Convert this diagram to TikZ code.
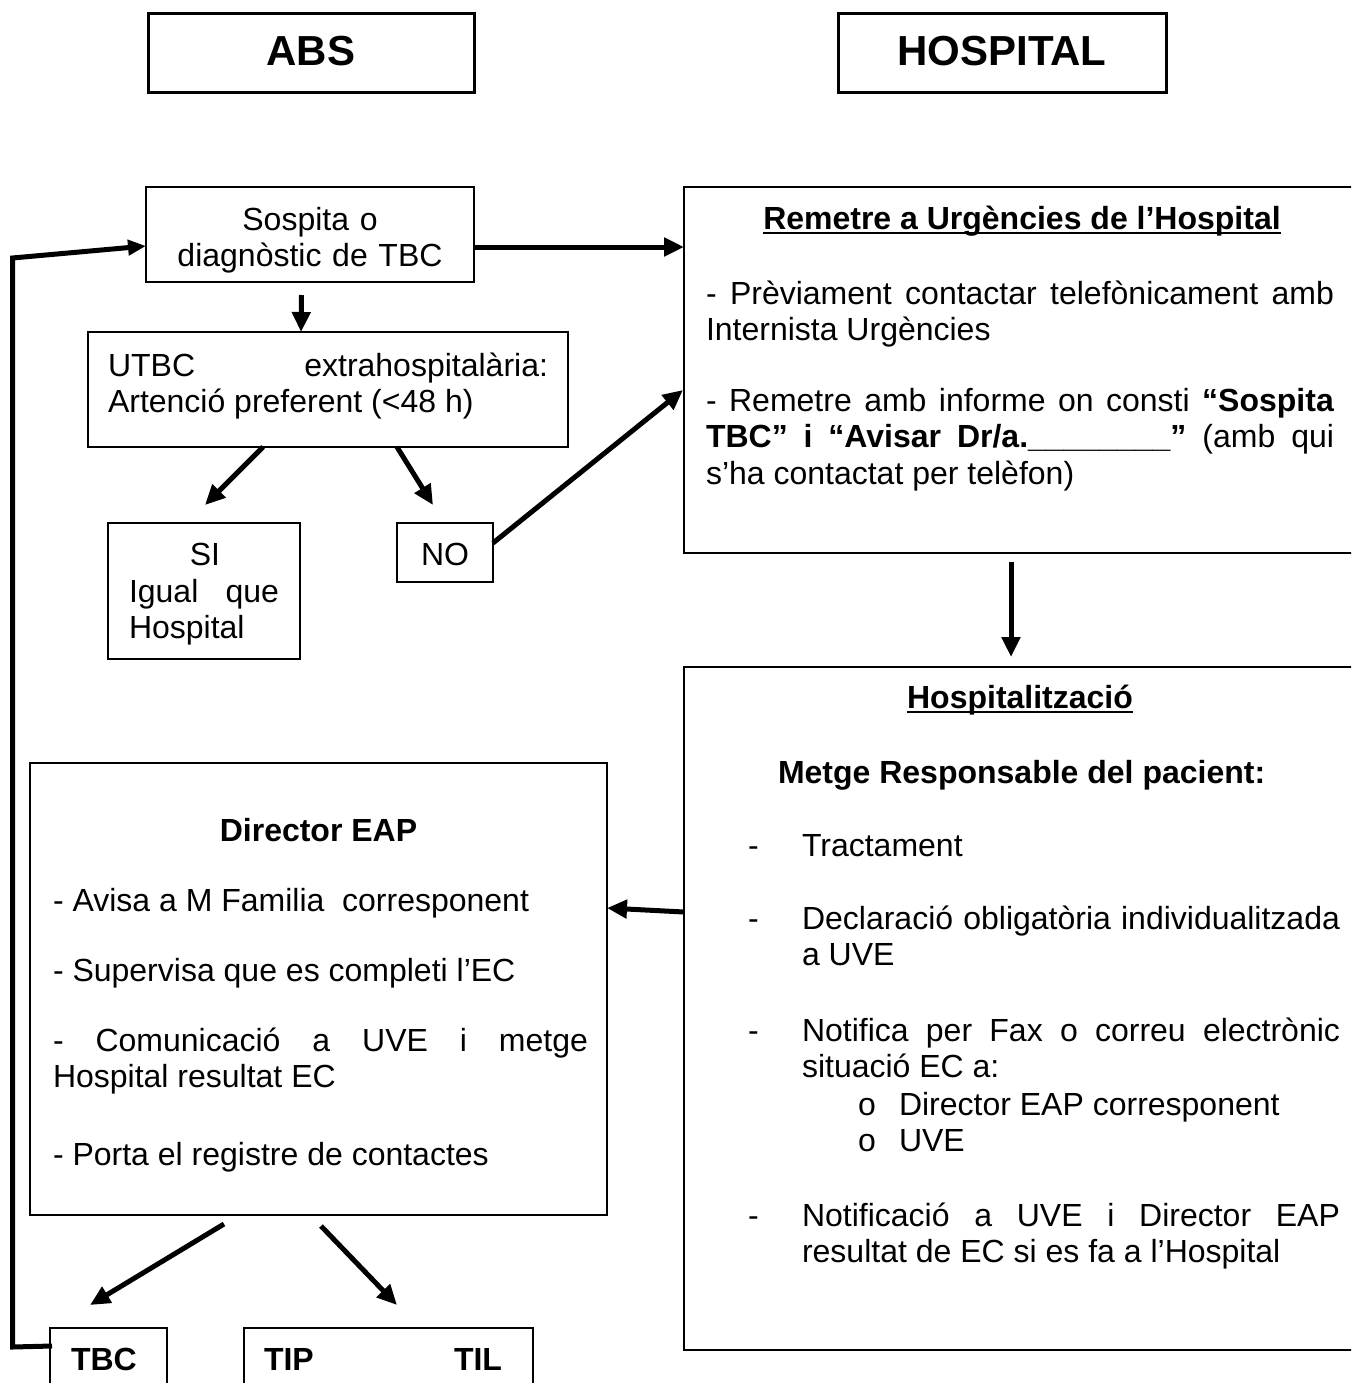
\documentclass[tikz,border=0pt]{standalone}
\usepackage{fontspec}
\setmainfont{Liberation Sans}
\usetikzlibrary{arrows.meta,calc}
\hyphenpenalty=10000
\exhyphenpenalty=10000
\tolerance=10000
\hbadness=10000
\newcommand\ulbold[1]{\setbox0=\hbox{\bfseries #1}\rlap{\rule[-5pt]{\wd0}{2.5pt}}\box0}
\begin{document}
\begin{tikzpicture}[x=1pt,y=-1pt,
  box/.style={draw, line width=1.8pt, inner sep=0pt, outer sep=0pt, anchor=north west},
  hbox/.style={box, line width=3pt},
  body/.style={inner sep=0pt, outer sep=0pt, font=\fontsize{32}{36.8}\selectfont, anchor=base west},
  para/.style={body, align=justify},
  ttl/.style={inner sep=0pt, outer sep=0pt, font=\fontsize{42}{48}\selectfont\bfseries, anchor=base},
  arr/.style={line width=5pt, -{Triangle[length=20pt,width=18pt]}},
  fb/.style={line width=5pt, line join=miter, -{Triangle[length=18pt,width=15pt]}}]
\useasboundingbox (0,0) rectangle (1351,1383);
\clip (0,0) rectangle (1351,1383);
% header boxes
\node[hbox, minimum width=326pt, minimum height=79pt] (abs) at (148,14) {};
\node[ttl] (absT) at (311,66) {ABS};
\node[hbox, minimum width=328pt, minimum height=79pt] (hospH) at (838,14) {};
\node[ttl] (hospHT) at (1002,66) {HOSPITAL};
% Sospita
\node[box, minimum width=328pt, minimum height=95pt] (sosp) at (146,187) {};
\node[body, text width=328pt, align=center, anchor=base] (sospT) at (310,230) {Sospita o\\diagnòstic de TBC};
% Remetre
\node[box, minimum width=720pt, minimum height=366pt] (rem) at (684,187) {};
\node[body, anchor=base] (remT) at (1022,229) {\ulbold{Remetre a Urgències de l’Hospital}};
\node[para, text width=628pt] (remP1) at (706,304) {- Prèviament contactar telefònicament amb\linebreak Internista Urgències};
\node[para, text width=628pt] (remP2) at (706,411) {- Remetre amb informe on consti \textbf{“Sospita}\linebreak \textbf{TBC” i “Avisar Dr/a.\_\_\_\_\_\_\_\_”} (amb qui\linebreak s’ha contactat per telèfon)};
% UTBC
\node[box, minimum width=480pt, minimum height=115pt] (utbc) at (88,332) {};
\node[para, text width=440pt] (utbcT) at (108,376) {UTBC extrahospitalària:\linebreak Artenció preferent (<48 h)};
% SI / NO
\node[box, minimum width=192pt, minimum height=136pt] (si) at (108,523) {};
\node[body, anchor=base] (siT) at (205,565) {SI};
\node[para, text width=150pt] (siP) at (129,602) {Igual que\linebreak Hospital};
\node[box, minimum width=96pt, minimum height=59pt] (no) at (397,523) {};
\node[body, anchor=base] (noT) at (445,565) {NO};
% Hospitalitzacio
\node[box, minimum width=720pt, minimum height=683pt] (hosp) at (684,667) {};
\node[body, anchor=base] (hospT) at (1020,708) {\ulbold{Hospitalització}};
\node[body] (metge) at (778,783) {\bfseries Metge Responsable del pacient:};
\node[body] (hd1) at (748,856) {-};
\node[body] (hb1) at (802,856) {Tractament};
\node[body] (hd2) at (748,929) {-};
\node[para, text width=538pt] (hb2) at (802,929) {Declaració obligatòria individualitzada\linebreak a UVE};
\node[body] (hd3) at (748,1041) {-};
\node[para, text width=538pt] (hb3) at (802,1041) {Notifica per Fax o correu electrònic\linebreak situació EC a:};
\node[body] (ho1) at (858,1115) {o};
\node[body] (hs1) at (899,1115) {Director EAP corresponent};
\node[body] (ho2) at (858,1151) {o};
\node[body] (hs2) at (899,1151) {UVE};
\node[body] (hd4) at (748,1226) {-};
\node[para, text width=538pt] (hb4) at (802,1226) {Notificació a UVE i Director EAP\linebreak resultat de EC si es fa a l’Hospital};
% Director EAP
\node[box, minimum width=577pt, minimum height=452pt] (dir) at (30,763) {};
\node[body, anchor=base] (dirT) at (318.5,841) {\bfseries Director EAP};
\node[para, text width=535pt] (dp1) at (53,911) {- Avisa a M Familia\ \ corresponent};
\node[para, text width=535pt] (dp2) at (53,981) {- Supervisa que es completi l’EC};
\node[para, text width=535pt] (dp3) at (53,1051) {- Comunicació a UVE i metge\linebreak Hospital resultat EC};
\node[para, text width=535pt] (dp4) at (53,1165) {- Porta el registre de contactes};
% bottom boxes
\node[box, minimum width=117pt, minimum height=100pt] (tbc) at (50,1328) {};
\node[body] (tbcT) at (71,1370) {\bfseries TBC};
\node[box, minimum width=289pt, minimum height=100pt] (tiptil) at (244,1328) {};
\node[body] (tipT) at (264,1370) {\bfseries TIP};
\node[body] (tilT) at (454,1370) {\bfseries TIL};
% arrows
\draw[arr] ($(sosp.east)+(0,12.5)$) -- ($(rem.west |- sosp.east)+(0,12.5)$);
\draw[arr] ($(sosp.south)+(-8.5,13)$) -- ($(utbc.north)+(-27,0)$);
\draw[arr] ($(utbc.south west)+(175,0)$) -- ($(si.north)+(1,-18)$);
\draw[arr] ($(utbc.south west)+(309,0)$) -- ($(no.north)+(-12,-18)$);
\draw[arr] ($(no.east)+(0,-9.5)$) -- ($(rem.west)+(-1,20)$);
\draw[arr] ($(rem.south west)+(327,9)$) -- ($(hosp.north west)+(327,-10)$);
\draw[arr] ($(hosp.north west)+(0,245)$) -- ($(dir.north east)+(0,145)$);
\draw[arr] ($(dir.south west)+(194,9)$) -- ($(tbc.north west)+(40,-23)$);
\draw[arr] ($(dir.south west)+(291,11)$) -- ($(tiptil.north west)+(153,-23)$);
\coordinate (fb1) at (12.5,1347);
\coordinate (fb2) at (12.5,258);
\draw[fb] ($(tbc.north west)+(2,18)$) -- (fb1) -- (fb2) -- ($(sosp.west)+(0,11.5)$);
\end{tikzpicture}
\end{document}
